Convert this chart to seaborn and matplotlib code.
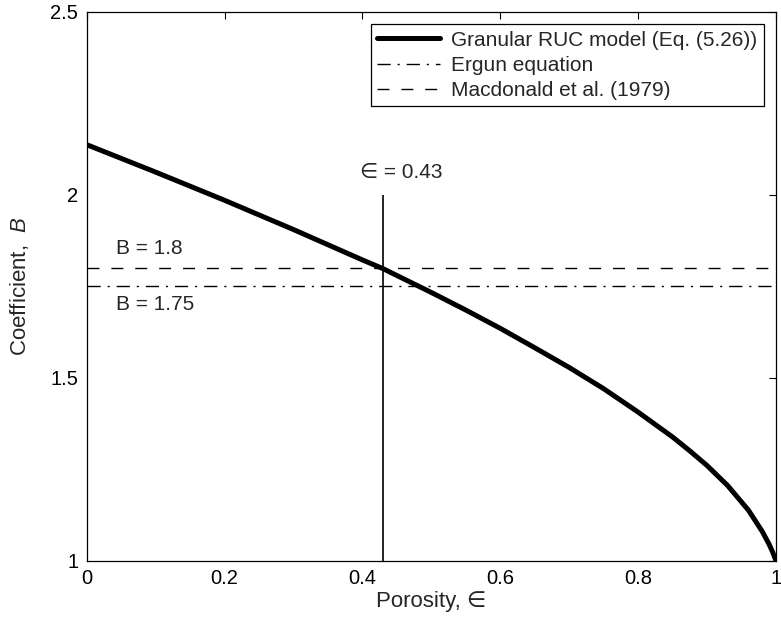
import matplotlib
matplotlib.use("Agg")
import matplotlib.pyplot as plt
import matplotlib.ticker as mticker
import seaborn as sns
import pandas as pd

# porosity vs coefficient B
porosity = [0.0, 0.1, 0.2, 0.3, 0.4, 0.43, 0.5, 0.55, 0.6, 0.65, 0.7, 0.75, 0.8,
            0.85, 0.875, 0.9, 0.93, 0.96, 0.98, 0.99, 0.995, 1.0]
coeff_b = [2.137, 2.062, 1.985, 1.905, 1.822, 1.798, 1.733, 1.685, 1.635, 1.582, 1.528,
           1.470, 1.406, 1.338, 1.300, 1.260, 1.205, 1.138, 1.080, 1.045, 1.024, 1.0]

ergun_b = 1.75
macdonald_b = 1.8
eps_ref = 0.43
eps_line_top = 2.0

labels = ['Granular RUC model (Eq. (5.26))', 'Ergun equation', 'Macdonald et al. (1979)']
x_ticks = [0, 0.2, 0.4, 0.6, 0.8, 1]
y_ticks = [1, 1.5, 2, 2.5]

sns.set_theme(style="white")
plt.rcParams['font.family'] = ['Liberation Sans', 'DejaVu Sans']
plt.rcParams['mathtext.fontset'] = 'custom'
plt.rcParams['mathtext.rm'] = 'Liberation Sans'
plt.rcParams['mathtext.it'] = 'Liberation Sans:italic'

df = pd.DataFrame({'Porosity': porosity, 'B': coeff_b})

fig = plt.figure(figsize=(7.81, 6.23), dpi=100)
ax = fig.add_axes([0.111, 0.100, 0.8826, 0.881])

sns.lineplot(data=df, x='Porosity', y='B', ax=ax, color='black', linewidth=3.6,
             label=labels[0], sort=True)
ax.axhline(ergun_b, color='black', linewidth=1.0, linestyle=(0, (9.5, 5, 1.5, 5)),
           label=labels[1])
ax.axhline(macdonald_b, color='black', linewidth=1.0, linestyle=(0, (8.6, 8.6)),
           label=labels[2])
ax.vlines(eps_ref, 1, eps_line_top, color='black', linewidth=1.2)

ax.text(0.042, 1.854, 'B = 1.8', fontsize=15, va='center', ha='left')
ax.text(0.043, 1.699, 'B = 1.75', fontsize=15, va='center', ha='left')
ax.text(0.456, 2.06, '\u2208 = 0.43', fontsize=15, va='center', ha='center')

ax.set_xlim(0, 1)
ax.set_ylim(1, 2.5)
ax.set_xticks(x_ticks)
ax.set_yticks(y_ticks)
ax.xaxis.set_major_formatter(mticker.FormatStrFormatter('%g'))
ax.yaxis.set_major_formatter(mticker.FormatStrFormatter('%g'))
ax.tick_params(direction='in', length=5, width=0.8, top=True, right=True,
               labelsize=14.5, colors='black', pad=6)
for s in ax.spines.values():
    s.set_color('black')
    s.set_linewidth(0.9)

ax.set_xlabel('Porosity, \u2208', fontsize=16, labelpad=2)
ax.set_ylabel('Coefficient,  $B$', fontsize=16, labelpad=14)

leg = ax.legend(loc='upper right', fontsize=15, handlelength=3.0, handletextpad=0.55,
                borderaxespad=0.6, frameon=True, fancybox=False, labelspacing=0.3,
                borderpad=0.3)
leg.get_frame().set_edgecolor('black')
leg.get_frame().set_linewidth(0.9)
leg.get_frame().set_alpha(1)

fig.savefig('out.png', dpi=100)
